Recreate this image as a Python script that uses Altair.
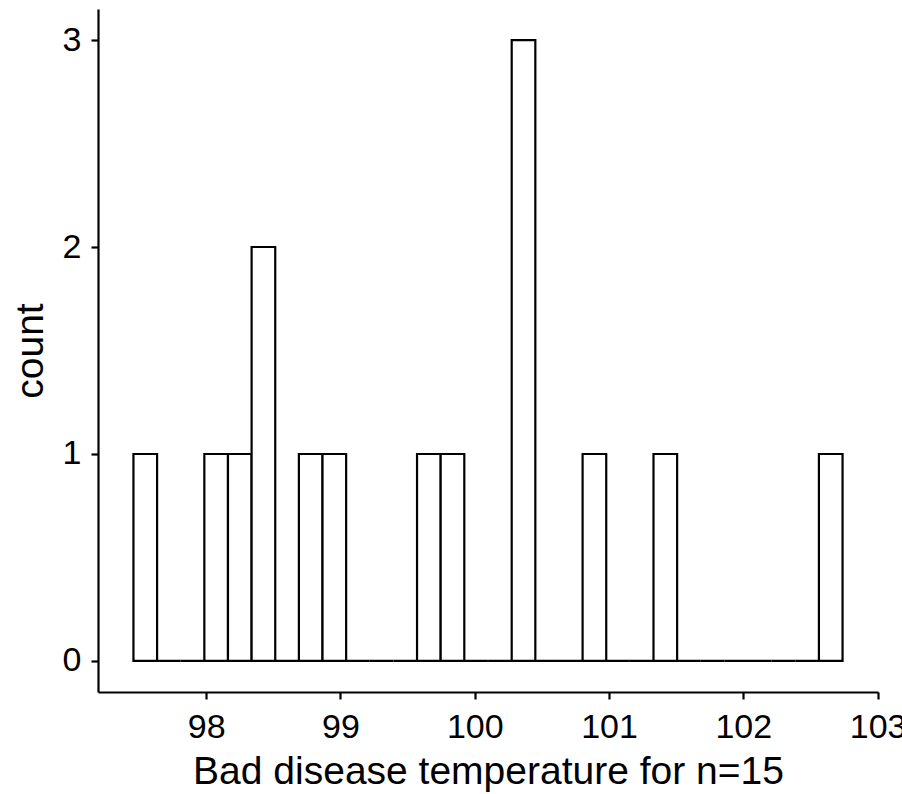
import altair as alt
import pandas as pd

# Histogram bins (left edges, in degrees) and counts
bin_left = [97.458, 97.634, 97.810, 97.986, 98.162, 98.338, 98.514, 98.690,
            98.866, 99.042, 99.218, 99.394, 99.570, 99.746, 99.922, 100.099,
            100.275, 100.451, 100.627, 100.803, 100.979, 101.155, 101.331,
            101.507, 101.683, 101.859, 102.035, 102.211, 102.387, 102.563]
bin_width = 0.17604
counts = [1, 0, 0, 1, 1, 2, 0, 1, 1, 0, 0, 0, 1, 1, 0,
          0, 3, 0, 0, 1, 0, 0, 1, 0, 0, 0, 0, 0, 0, 1]
x_ticks = [98, 99, 100, 101, 102, 103]
y_ticks = [0, 1, 2, 3]

df = pd.DataFrame({
    "left": bin_left,
    "right": [b + bin_width for b in bin_left],
    "count": counts,
    "zero": [0] * len(counts),
})

FONT = "Liberation Sans"

chart = alt.Chart(df).mark_rect(
    fill="white", stroke="black", strokeWidth=2.2
).encode(
    x=alt.X("left:Q",
            scale=alt.Scale(domain=[97.194, 103.003], nice=False, zero=False),
            axis=alt.Axis(values=x_ticks, title="Bad disease temperature for n=15",
                          format="d", labelFlush=False, labelOverlap=False)),
    x2="right:Q",
    y=alt.Y("zero:Q",
            scale=alt.Scale(domain=[-0.15, 3.15], nice=False, zero=False),
            axis=alt.Axis(values=y_ticks, title="count", format="d",
                          labelFlush=False, labelOverlap=False)),
    y2="count:Q",
).properties(
    width=780,
    height=683,
    autosize=alt.AutoSizeParams(type="none"),
    padding={"left": 98, "top": 9, "right": 24, "bottom": 102},
).configure_view(
    stroke=None
).configure_axis(
    grid=False,
    domainColor="black",
    domainWidth=2.2,
    tickColor="black",
    tickWidth=2.2,
    tickSize=7,
    labelColor="black",
    labelFont=FONT,
    labelFontSize=34,
    titleFont=FONT,
    titleFontSize=39,
    titleFontWeight="normal",
    titleColor="black",
).configure_axisX(
    labelPadding=11,
    titlePadding=8,
).configure_axisY(
    labelPadding=10,
    titlePadding=12,
)

chart.save("out.html", embed_options={"renderer": "svg", "actions": False})
